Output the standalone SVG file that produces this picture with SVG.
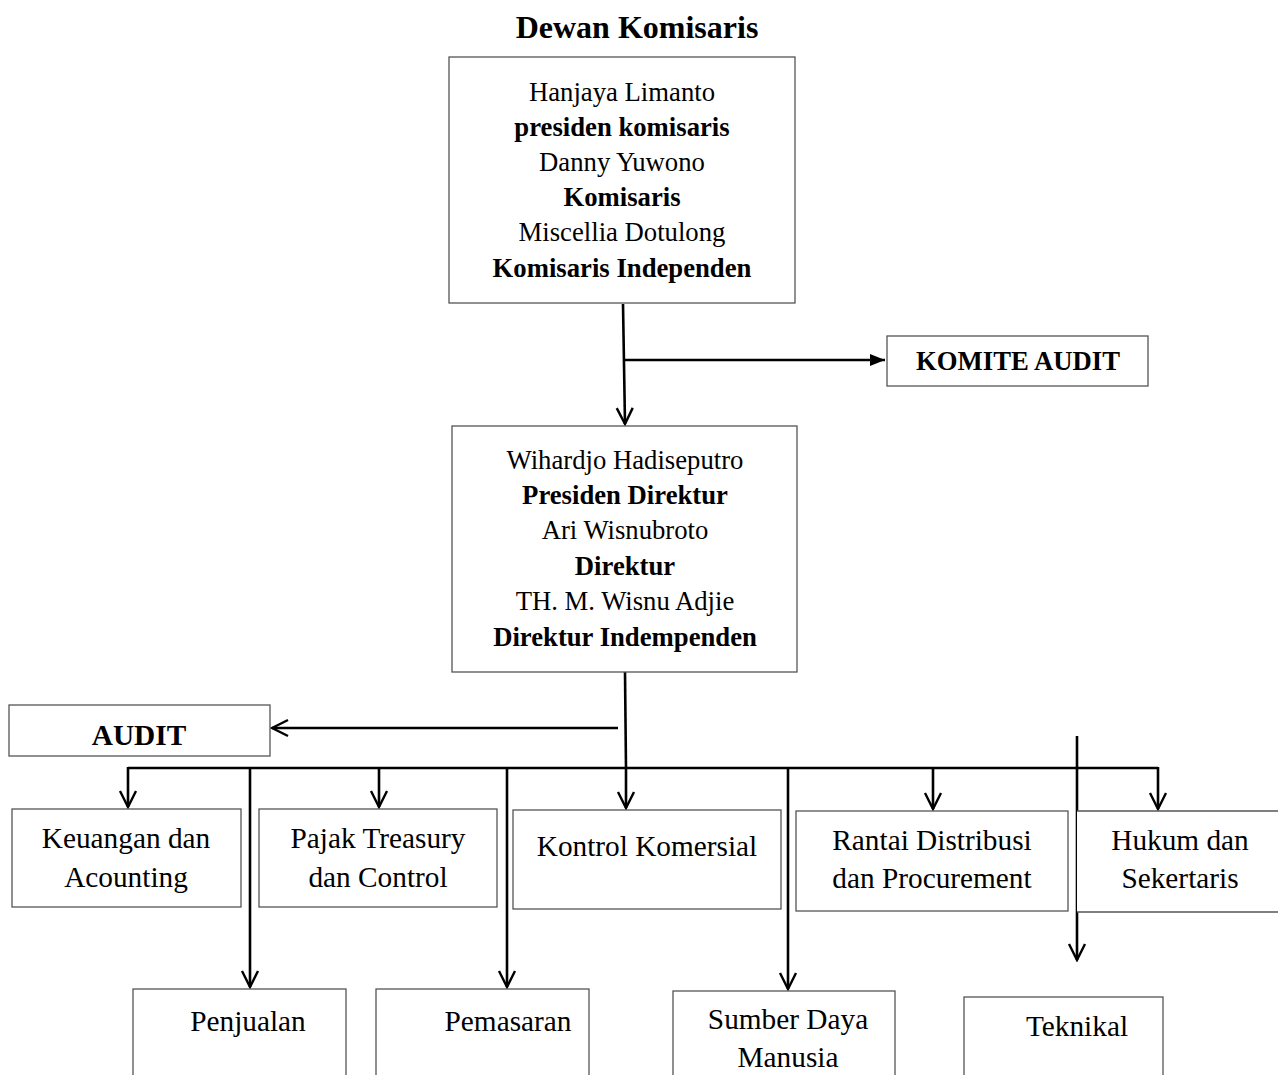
<svg xmlns="http://www.w3.org/2000/svg" width="1278" height="1075" viewBox="0 0 1278 1075">
<defs>
<style>
.box{fill:#fff;stroke:#555;stroke-width:1.3}
.t{font-family:"Liberation Serif","Times New Roman",serif;font-size:26.7px;fill:#000;text-anchor:middle}
.l{font-size:29.3px}
.b{font-weight:bold}
.c{stroke:#000;stroke-width:2.6;fill:none}
</style>
<marker id="v" viewBox="0 0 20 20" refX="18" refY="10" markerWidth="20" markerHeight="20" markerUnits="userSpaceOnUse" orient="auto">
<path d="M2,2 L18,10 L2,18" fill="none" stroke="#000" stroke-width="2.4"/>
</marker>
<marker id="f" viewBox="0 0 16 16" refX="15" refY="8" markerWidth="16" markerHeight="16" markerUnits="userSpaceOnUse" orient="auto">
<path d="M0,2 L15,8 L0,14 Z" fill="#000"/>
</marker>
</defs>
<rect width="1278" height="1075" fill="#fff"/>
<text class="t b" x="637" y="38" style="font-size:32px">Dewan Komisaris</text>

<g id="connectors">
<path class="c" d="M623,304 L625,424" marker-end="url(#v)"/>
<path class="c" d="M624,360 L885,360" marker-end="url(#f)"/>
<path class="c" d="M625,672 L626,768"/>
<path class="c" d="M618,728 L272,728" marker-end="url(#v)"/>
<path class="c" d="M128,768 L1158,768"/>
<path class="c" d="M128,767 L128,807" marker-end="url(#v)"/>
<path class="c" d="M379,767 L379,807" marker-end="url(#v)"/>
<path class="c" d="M626,767 L626,808" marker-end="url(#v)"/>
<path class="c" d="M933,767 L933,809" marker-end="url(#v)"/>
<path class="c" d="M1158,767 L1158,809" marker-end="url(#v)"/>
<path class="c" d="M250,767 L250,987" marker-end="url(#v)"/>
<path class="c" d="M507,767 L507,987" marker-end="url(#v)"/>
<path class="c" d="M788,767 L788,989" marker-end="url(#v)"/>
<path class="c" d="M1077,736 L1077,960" marker-end="url(#v)"/>
</g>

<g id="komisaris">
<rect class="box" x="449" y="57" width="346" height="246"/>
<text class="t" x="622" y="101">Hanjaya Limanto</text>
<text class="t b" x="622" y="136">presiden komisaris</text>
<text class="t" x="622" y="171">Danny Yuwono</text>
<text class="t b" x="622" y="206">Komisaris</text>
<text class="t" x="622" y="241">Miscellia Dotulong</text>
<text class="t b" x="622" y="277">Komisaris Independen</text>
</g>

<g id="komite-audit">
<rect class="box" x="887" y="336" width="261" height="50"/>
<text class="t b" x="1018" y="370">KOMITE AUDIT</text>
</g>

<g id="direksi">
<rect class="box" x="452" y="426" width="345" height="246"/>
<text class="t" x="625" y="469">Wihardjo Hadiseputro</text>
<text class="t b" x="625" y="504">Presiden Direktur</text>
<text class="t" x="625" y="539">Ari Wisnubroto</text>
<text class="t b" x="625" y="575">Direktur</text>
<text class="t" x="625" y="610">TH. M. Wisnu Adjie</text>
<text class="t b" x="625" y="646">Direktur Indempenden</text>
</g>

<g id="audit">
<rect class="box" x="9" y="705" width="261" height="51"/>
<text class="t l b" x="139" y="745">AUDIT</text>
</g>

<g id="keuangan">
<rect class="box" x="12" y="809" width="229" height="98"/>
<text class="t l" x="126" y="848">Keuangan dan</text>
<text class="t l" x="126" y="887">Acounting</text>
</g>

<g id="pajak">
<rect class="box" x="259" y="809" width="238" height="98"/>
<text class="t l" x="378" y="848">Pajak Treasury</text>
<text class="t l" x="378" y="887">dan Control</text>
</g>

<g id="kontrol">
<rect class="box" x="513" y="810" width="268" height="99"/>
<text class="t l" x="647" y="856">Kontrol Komersial</text>
</g>

<g id="rantai">
<rect class="box" x="796" y="811" width="272" height="100"/>
<text class="t l" x="932" y="850">Rantai Distribusi</text>
<text class="t l" x="932" y="888">dan Procurement</text>
</g>

<g id="hukum">
<path class="box" d="M1077,811 L1280,811 L1280,912 L1077,912"/>
<text class="t l" x="1180" y="850">Hukum dan</text>
<text class="t l" x="1180" y="888">Sekertaris</text>
</g>

<g id="penjualan">
<rect class="box" x="133" y="989" width="213" height="100"/>
<text class="t l" x="248" y="1031">Penjualan</text>
</g>

<g id="pemasaran">
<rect class="box" x="376" y="989" width="213" height="100"/>
<text class="t l" x="508" y="1031">Pemasaran</text>
</g>

<g id="sdm">
<rect class="box" x="673" y="991" width="222" height="100"/>
<text class="t l" x="788" y="1029">Sumber Daya</text>
<text class="t l" x="788" y="1067">Manusia</text>
</g>

<g id="teknikal">
<rect class="box" x="964" y="997" width="199" height="100"/>
<text class="t l" x="1077" y="1036">Teknikal</text>
</g>
</svg>
